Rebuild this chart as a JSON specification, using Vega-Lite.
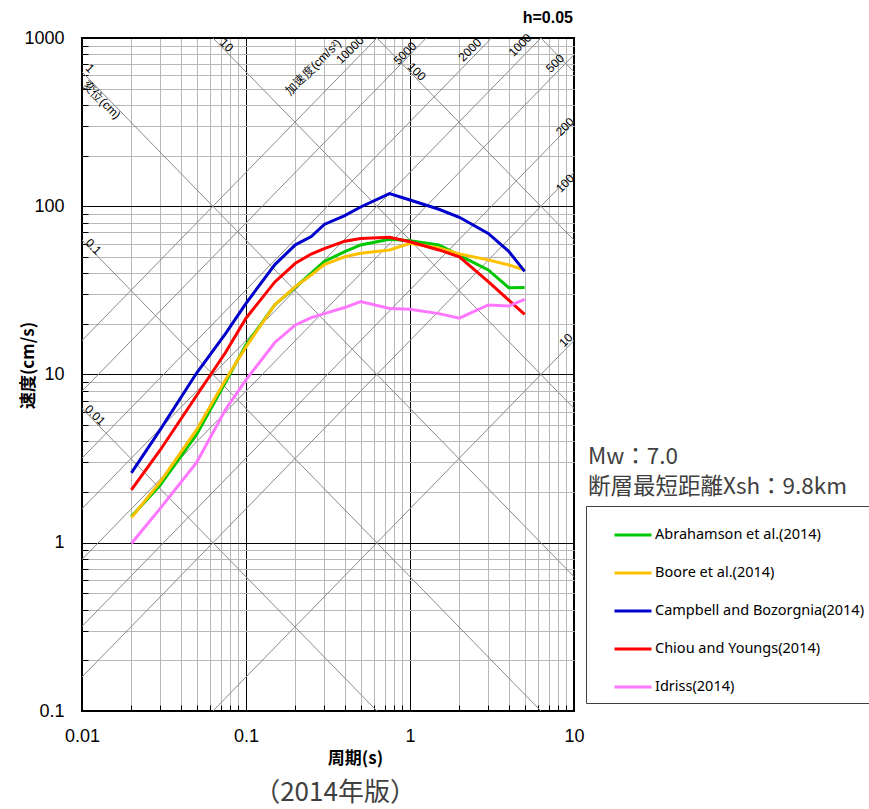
{
  "$schema": "https://vega.github.io/schema/vega-lite/v6.json",
  "width": 492,
  "height": 673,
  "autosize": {"type": "none"},
  "padding": {"left": 82, "top": 38, "right": 295, "bottom": 98},
  "config": {"view": {"stroke": "black", "strokeWidth": 2}, "font": "Liberation Sans"},
  "datasets": {
    "diag": [
      {"id": "D0.01", "T": 0.001, "v": 62.832}, {"id": "D0.01", "T": 100, "v": 0.00062832},
      {"id": "D0.1", "T": 0.001, "v": 628.32}, {"id": "D0.1", "T": 100, "v": 0.0062832},
      {"id": "D1", "T": 0.001, "v": 6283.2}, {"id": "D1", "T": 100, "v": 0.062832},
      {"id": "D10", "T": 0.001, "v": 62832}, {"id": "D10", "T": 100, "v": 0.62832},
      {"id": "D100", "T": 0.001, "v": 628319}, {"id": "D100", "T": 100, "v": 6.2832},
      {"id": "D1000", "T": 0.001, "v": 6283185}, {"id": "D1000", "T": 100, "v": 62.832},
      {"id": "A10", "T": 0.001, "v": 0.0015915}, {"id": "A10", "T": 100, "v": 159.15},
      {"id": "A100", "T": 0.001, "v": 0.015915}, {"id": "A100", "T": 100, "v": 1591.5},
      {"id": "A200", "T": 0.001, "v": 0.031831}, {"id": "A200", "T": 100, "v": 3183.1},
      {"id": "A500", "T": 0.001, "v": 0.079577}, {"id": "A500", "T": 100, "v": 7957.7},
      {"id": "A1000", "T": 0.001, "v": 0.15915}, {"id": "A1000", "T": 100, "v": 15915},
      {"id": "A2000", "T": 0.001, "v": 0.31831}, {"id": "A2000", "T": 100, "v": 31831},
      {"id": "A5000", "T": 0.001, "v": 0.79577}, {"id": "A5000", "T": 100, "v": 79577},
      {"id": "A10000", "T": 0.001, "v": 1.5915}, {"id": "A10000", "T": 100, "v": 159155}
    ],
    "curves": [
      {"model": "Abrahamson et al.(2014)", "T": 0.02, "v": 1.43},
      {"model": "Abrahamson et al.(2014)", "T": 0.03, "v": 2.2},
      {"model": "Abrahamson et al.(2014)", "T": 0.05, "v": 4.4},
      {"model": "Abrahamson et al.(2014)", "T": 0.075, "v": 9.0},
      {"model": "Abrahamson et al.(2014)", "T": 0.1, "v": 15},
      {"model": "Abrahamson et al.(2014)", "T": 0.15, "v": 26},
      {"model": "Abrahamson et al.(2014)", "T": 0.2, "v": 33},
      {"model": "Abrahamson et al.(2014)", "T": 0.25, "v": 40},
      {"model": "Abrahamson et al.(2014)", "T": 0.3, "v": 47},
      {"model": "Abrahamson et al.(2014)", "T": 0.4, "v": 53.7},
      {"model": "Abrahamson et al.(2014)", "T": 0.5, "v": 58.9},
      {"model": "Abrahamson et al.(2014)", "T": 0.75, "v": 63.6},
      {"model": "Abrahamson et al.(2014)", "T": 1, "v": 62.4},
      {"model": "Abrahamson et al.(2014)", "T": 1.5, "v": 58.9},
      {"model": "Abrahamson et al.(2014)", "T": 2, "v": 51},
      {"model": "Abrahamson et al.(2014)", "T": 3, "v": 41.8},
      {"model": "Abrahamson et al.(2014)", "T": 4, "v": 32.8},
      {"model": "Abrahamson et al.(2014)", "T": 5, "v": 32.9},
      {"model": "Boore et al.(2014)", "T": 0.02, "v": 1.41},
      {"model": "Boore et al.(2014)", "T": 0.03, "v": 2.3},
      {"model": "Boore et al.(2014)", "T": 0.05, "v": 4.7},
      {"model": "Boore et al.(2014)", "T": 0.075, "v": 9.3},
      {"model": "Boore et al.(2014)", "T": 0.1, "v": 14.6},
      {"model": "Boore et al.(2014)", "T": 0.15, "v": 26},
      {"model": "Boore et al.(2014)", "T": 0.2, "v": 33.3},
      {"model": "Boore et al.(2014)", "T": 0.25, "v": 39},
      {"model": "Boore et al.(2014)", "T": 0.3, "v": 45},
      {"model": "Boore et al.(2014)", "T": 0.4, "v": 50.1},
      {"model": "Boore et al.(2014)", "T": 0.5, "v": 52.5},
      {"model": "Boore et al.(2014)", "T": 0.75, "v": 55},
      {"model": "Boore et al.(2014)", "T": 1, "v": 60.3},
      {"model": "Boore et al.(2014)", "T": 1.5, "v": 56.5},
      {"model": "Boore et al.(2014)", "T": 2, "v": 52},
      {"model": "Boore et al.(2014)", "T": 3, "v": 48},
      {"model": "Boore et al.(2014)", "T": 4, "v": 44.8},
      {"model": "Boore et al.(2014)", "T": 5, "v": 41.8},
      {"model": "Campbell and Bozorgnia(2014)", "T": 0.02, "v": 2.6},
      {"model": "Campbell and Bozorgnia(2014)", "T": 0.03, "v": 4.7},
      {"model": "Campbell and Bozorgnia(2014)", "T": 0.05, "v": 10.2},
      {"model": "Campbell and Bozorgnia(2014)", "T": 0.075, "v": 17.5},
      {"model": "Campbell and Bozorgnia(2014)", "T": 0.1, "v": 26.5},
      {"model": "Campbell and Bozorgnia(2014)", "T": 0.15, "v": 45},
      {"model": "Campbell and Bozorgnia(2014)", "T": 0.2, "v": 59},
      {"model": "Campbell and Bozorgnia(2014)", "T": 0.25, "v": 66},
      {"model": "Campbell and Bozorgnia(2014)", "T": 0.3, "v": 78},
      {"model": "Campbell and Bozorgnia(2014)", "T": 0.4, "v": 88},
      {"model": "Campbell and Bozorgnia(2014)", "T": 0.5, "v": 99},
      {"model": "Campbell and Bozorgnia(2014)", "T": 0.75, "v": 119},
      {"model": "Campbell and Bozorgnia(2014)", "T": 1, "v": 109},
      {"model": "Campbell and Bozorgnia(2014)", "T": 1.5, "v": 96},
      {"model": "Campbell and Bozorgnia(2014)", "T": 2, "v": 86},
      {"model": "Campbell and Bozorgnia(2014)", "T": 3, "v": 69},
      {"model": "Campbell and Bozorgnia(2014)", "T": 4, "v": 54},
      {"model": "Campbell and Bozorgnia(2014)", "T": 5, "v": 41},
      {"model": "Chiou and Youngs(2014)", "T": 0.02, "v": 2.06},
      {"model": "Chiou and Youngs(2014)", "T": 0.03, "v": 3.56},
      {"model": "Chiou and Youngs(2014)", "T": 0.05, "v": 7.5},
      {"model": "Chiou and Youngs(2014)", "T": 0.075, "v": 13.5},
      {"model": "Chiou and Youngs(2014)", "T": 0.1, "v": 21.6},
      {"model": "Chiou and Youngs(2014)", "T": 0.15, "v": 35.5},
      {"model": "Chiou and Youngs(2014)", "T": 0.2, "v": 45.8},
      {"model": "Chiou and Youngs(2014)", "T": 0.25, "v": 52},
      {"model": "Chiou and Youngs(2014)", "T": 0.3, "v": 56},
      {"model": "Chiou and Youngs(2014)", "T": 0.4, "v": 62},
      {"model": "Chiou and Youngs(2014)", "T": 0.5, "v": 64.4},
      {"model": "Chiou and Youngs(2014)", "T": 0.75, "v": 65.4},
      {"model": "Chiou and Youngs(2014)", "T": 1, "v": 61.5},
      {"model": "Chiou and Youngs(2014)", "T": 1.5, "v": 55},
      {"model": "Chiou and Youngs(2014)", "T": 2, "v": 50},
      {"model": "Chiou and Youngs(2014)", "T": 3, "v": 35.6},
      {"model": "Chiou and Youngs(2014)", "T": 4, "v": 27.7},
      {"model": "Chiou and Youngs(2014)", "T": 5, "v": 22.8},
      {"model": "Idriss(2014)", "T": 0.02, "v": 0.99},
      {"model": "Idriss(2014)", "T": 0.03, "v": 1.6},
      {"model": "Idriss(2014)", "T": 0.05, "v": 3.0},
      {"model": "Idriss(2014)", "T": 0.075, "v": 6.2},
      {"model": "Idriss(2014)", "T": 0.1, "v": 9.3},
      {"model": "Idriss(2014)", "T": 0.15, "v": 15.5},
      {"model": "Idriss(2014)", "T": 0.2, "v": 19.7},
      {"model": "Idriss(2014)", "T": 0.25, "v": 21.8},
      {"model": "Idriss(2014)", "T": 0.3, "v": 23},
      {"model": "Idriss(2014)", "T": 0.4, "v": 25},
      {"model": "Idriss(2014)", "T": 0.5, "v": 27.1},
      {"model": "Idriss(2014)", "T": 0.75, "v": 24.7},
      {"model": "Idriss(2014)", "T": 1, "v": 24.4},
      {"model": "Idriss(2014)", "T": 1.5, "v": 23},
      {"model": "Idriss(2014)", "T": 2, "v": 21.6},
      {"model": "Idriss(2014)", "T": 3, "v": 25.9},
      {"model": "Idriss(2014)", "T": 4, "v": 25.5},
      {"model": "Idriss(2014)", "T": 5, "v": 28}
    ],
    "accLabels": [
      {"label": "10000", "T": 0.4305, "v": 849},
      {"label": "5000", "T": 0.932, "v": 811},
      {"label": "2000", "T": 2.32, "v": 849},
      {"label": "1000", "T": 4.69, "v": 908},
      {"label": "500", "T": 7.66, "v": 708},
      {"label": "200", "T": 8.81, "v": 297},
      {"label": "100", "T": 8.81, "v": 136.8},
      {"label": "10", "T": 8.93, "v": 16},
      {"label": "加速度(cm/s²)", "T": 0.2563, "v": 672}
    ],
    "dispLabels": [
      {"label": "10", "T": 0.0761, "v": 908},
      {"label": "100", "T": 1.099, "v": 631},
      {"label": "1", "T": 0.01119, "v": 661},
      {"label": "変位(cm)", "T": 0.01318, "v": 428},
      {"label": "0.1", "T": 0.01173, "v": 57.5},
      {"label": "0.01", "T": 0.012, "v": 5.74}
    ],
    "notes": [
      {"label": "Mw：7.0", "T": 12.17, "v": 3.23},
      {"label": "断層最短距離Xsh：9.8km", "T": 12.17, "v": 2.145}
    ],
    "header": [
      {"label": "h=0.05", "T": 9.86, "v": 1315}
    ],
    "caption": [
      {"label": "（2014年版）", "T": 0.349, "v": 0.0326}
    ]
  },
  "layer": [
    {
      "data": {"name": "diag"},
      "mark": {"type": "line", "clip": true, "color": "#8a8a8a", "strokeWidth": 1},
      "encoding": {
        "x": {
          "field": "T", "type": "quantitative",
          "scale": {"type": "log", "domain": [0.01, 10], "nice": false},
          "axis": {
            "values": [0.01, 0.02, 0.03, 0.04, 0.05, 0.06, 0.07, 0.08, 0.09, 0.1, 0.2, 0.3, 0.4, 0.5, 0.6, 0.7, 0.8, 0.9, 1, 2, 3, 4, 5, 6, 7, 8, 9, 10],
            "labelExpr": "datum.value == 0.01 ? '0.01' : datum.value == 0.1 ? '0.1' : datum.value == 1 ? '1' : datum.value == 10 ? '10' : ''",
            "labelOverlap": false, "labelFlush": false, "labelBound": false,
            "labelFont": "Liberation Sans", "labelFontSize": 18, "labelColor": "black", "labelPadding": 22,
            "tickSize": -6, "tickColor": "black", "tickWidth": 1,
            "domain": false,
            "grid": true,
            "gridColor": {"condition": {"test": "datum.value == 0.01 || datum.value == 0.1 || datum.value == 1 || datum.value == 10", "value": "#000000"}, "value": "#b8b8b8"},
            "gridWidth": 1,
            "title": "周期(s)", "titleFont": "Noto Sans CJK JP", "titleFontWeight": "bold", "titleFontSize": 17, "titleColor": "black",
            "titleX": 273, "titleY": 47, "titleBaseline": "middle", "titleAlign": "center"
          }
        },
        "y": {
          "field": "v", "type": "quantitative",
          "scale": {"type": "log", "domain": [0.1, 1000], "nice": false},
          "axis": {
            "values": [0.1, 0.2, 0.3, 0.4, 0.5, 0.6, 0.7, 0.8, 0.9, 1, 2, 3, 4, 5, 6, 7, 8, 9, 10, 20, 30, 40, 50, 60, 70, 80, 90, 100, 200, 300, 400, 500, 600, 700, 800, 900, 1000],
            "labelExpr": "datum.value == 0.1 ? '0.1' : datum.value == 1 ? '1' : datum.value == 10 ? '10' : datum.value == 100 ? '100' : datum.value == 1000 ? '1000' : ''",
            "labelOverlap": false, "labelFlush": false, "labelBound": false,
            "labelFont": "Liberation Sans", "labelFontSize": 18, "labelColor": "black", "labelPadding": 24,
            "tickSize": -6, "tickColor": "black", "tickWidth": 1,
            "domain": false,
            "grid": true,
            "gridColor": {"condition": {"test": "datum.value == 0.1 || datum.value == 1 || datum.value == 10 || datum.value == 100 || datum.value == 1000", "value": "#000000"}, "value": "#b8b8b8"},
            "gridWidth": 1,
            "title": "速度(cm/s)", "titleFont": "Noto Sans CJK JP", "titleFontWeight": "bold", "titleFontSize": 17, "titleColor": "black",
            "titleX": -54, "titleY": 327, "titleBaseline": "middle", "titleAlign": "center", "titleAngle": -90
          }
        },
        "detail": {"field": "id", "type": "nominal"},
        "order": {"field": "T", "type": "quantitative"}
      }
    },
    {
      "data": {"name": "curves"},
      "mark": {"type": "line", "strokeWidth": 3, "clip": true},
      "encoding": {
        "x": {"field": "T", "type": "quantitative", "title": "周期(s)", "scale": {"type": "log", "domain": [0.01, 10], "nice": false}},
        "y": {"field": "v", "type": "quantitative", "title": "速度(cm/s)", "scale": {"type": "log", "domain": [0.1, 1000], "nice": false}},
        "order": {"field": "T", "type": "quantitative"},
        "color": {
          "field": "model", "type": "nominal",
          "scale": {
            "domain": ["Abrahamson et al.(2014)", "Boore et al.(2014)", "Campbell and Bozorgnia(2014)", "Chiou and Youngs(2014)", "Idriss(2014)"],
            "range": ["#00c800", "#ffc000", "#0000cc", "#ff0000", "#ff77ff"]
          },
          "legend": {
            "title": null,
            "orient": "none", "legendX": 504, "legendY": 468,
            "direction": "vertical",
            "symbolType": "stroke", "symbolSize": 1369, "symbolStrokeWidth": 3,
            "symbolOffset": 18, "labelOffset": 2,
            "labelFont": "Noto Sans", "labelFontSize": 14.5, "labelColor": "black", "labelLimit": 400,
            "rowPadding": 11, "padding": 9,
            "strokeColor": "#404040", "fillColor": "white"
          }
        }
      }
    },
    {
      "data": {"name": "accLabels"},
      "mark": {"type": "text", "angle": -45, "fontSize": 12, "font": "Liberation Sans", "color": "black", "align": "center", "baseline": "middle"},
      "encoding": {
        "x": {"field": "T", "type": "quantitative", "title": "周期(s)", "scale": {"type": "log", "domain": [0.01, 10], "nice": false}},
        "y": {"field": "v", "type": "quantitative", "title": "速度(cm/s)", "scale": {"type": "log", "domain": [0.1, 1000], "nice": false}},
        "text": {"field": "label"}
      }
    },
    {
      "data": {"name": "dispLabels"},
      "mark": {"type": "text", "angle": 45, "fontSize": 12, "font": "Liberation Sans", "color": "black", "align": "center", "baseline": "middle"},
      "encoding": {
        "x": {"field": "T", "type": "quantitative", "title": "周期(s)", "scale": {"type": "log", "domain": [0.01, 10], "nice": false}},
        "y": {"field": "v", "type": "quantitative", "title": "速度(cm/s)", "scale": {"type": "log", "domain": [0.1, 1000], "nice": false}},
        "text": {"field": "label"}
      }
    },
    {
      "data": {"name": "notes"},
      "mark": {"type": "text", "fontSize": 22.5, "font": "Noto Sans CJK JP", "color": "#404040", "align": "left", "baseline": "middle"},
      "encoding": {
        "x": {"field": "T", "type": "quantitative", "title": "周期(s)", "scale": {"type": "log", "domain": [0.01, 10], "nice": false}},
        "y": {"field": "v", "type": "quantitative", "title": "速度(cm/s)", "scale": {"type": "log", "domain": [0.1, 1000], "nice": false}},
        "text": {"field": "label"}
      }
    },
    {
      "data": {"name": "header"},
      "mark": {"type": "text", "fontSize": 16, "fontWeight": "bold", "font": "Liberation Sans", "color": "black", "align": "right", "baseline": "middle"},
      "encoding": {
        "x": {"field": "T", "type": "quantitative", "title": "周期(s)", "scale": {"type": "log", "domain": [0.01, 10], "nice": false}},
        "y": {"field": "v", "type": "quantitative", "title": "速度(cm/s)", "scale": {"type": "log", "domain": [0.1, 1000], "nice": false}},
        "text": {"field": "label"}
      }
    },
    {
      "data": {"name": "caption"},
      "mark": {"type": "text", "fontSize": 26, "font": "Noto Sans CJK JP", "color": "#404040", "align": "center", "baseline": "middle"},
      "encoding": {
        "x": {"field": "T", "type": "quantitative", "title": "周期(s)", "scale": {"type": "log", "domain": [0.01, 10], "nice": false}},
        "y": {"field": "v", "type": "quantitative", "title": "速度(cm/s)", "scale": {"type": "log", "domain": [0.1, 1000], "nice": false}},
        "text": {"field": "label"}
      }
    }
  ]
}
